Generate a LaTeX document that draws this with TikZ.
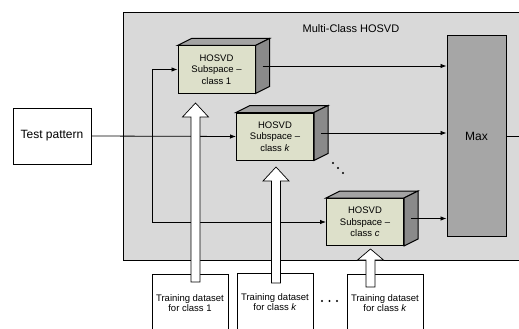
\documentclass[tikz,border=0pt]{standalone}
\usepackage{fontspec}
\setmainfont{Liberation Sans}
\usetikzlibrary{arrows.meta,calc}

\definecolor{panelgray}{HTML}{D9D9D9}
\definecolor{facegreen}{HTML}{DDE0CA}
\definecolor{topgray}{HTML}{A3A3A3}
\definecolor{sidegray}{HTML}{8A8A8A}
\definecolor{maxgray}{HTML}{A6A6A6}

\tikzset{
  subspace/.style={draw,line width=1pt,fill=facegreen,minimum width=77pt,minimum height=47pt,
    inner sep=0pt,align=center,font=\fontsize{9.5}{11.5}\selectfont},
  trainbox/.style={draw,line width=0.8pt,fill=white,minimum width=76pt,minimum height=58pt,
    inner sep=0pt,align=center,font=\fontsize{9.5}{10.5}\selectfont},
  flow/.style={line width=0.8pt,-{Latex[length=6pt,width=4.5pt]}}
}

% hollow upward arrow: x, tip y, head base y, tail y
\newcommand{\bigarrow}[4]{%
  \filldraw[fill=white,line width=0.7pt]
    (#1-4.5,#4) -- (#1-4.5,#3) -- (#1-13,#3) -- (#1,#2) -- (#1+13,#3)
    -- (#1+4.5,#3) -- (#1+4.5,#4) -- cycle;}

% top and side face of a cube on a node
\newcommand{\cubefaces}[1]{%
  \filldraw[fill=topgray,line width=1pt] (#1.north west) -- ++(14,-7) -- ($(#1.north east)+(14,-7)$)
    -- (#1.north east) -- cycle;
  \filldraw[fill=sidegray,line width=1pt] (#1.north east) -- ++(14,-7) -- ($(#1.south east)+(14,-7)$)
    -- (#1.south east) -- cycle;}

\begin{document}
\begin{tikzpicture}[x=1pt,y=-1pt]
\useasboundingbox (0,0) rectangle (519,329);
\clip (0,0) rectangle (519,329);

\draw[line width=0.9pt,fill=panelgray] (123,12) rectangle (540,260);
\node (title) at (351,29) {\fontsize{11}{13}\selectfont Multi-Class HOSVD};

\node[draw,line width=0.9pt,fill=white,minimum width=78pt,minimum height=56pt,inner sep=0pt,
  font=\fontsize{12}{14}\selectfont] (test) at (52,136) {Test pattern};

\node[draw,line width=1pt,fill=maxgray,minimum width=59pt,minimum height=200pt,inner sep=0pt,
  font=\fontsize{12}{14}\selectfont] (max) at (476.5,136) {Max};

\node[subspace] (box1) at (216.5,69.5) {HOSVD\\Subspace --\\class 1};
\node[subspace] (boxk) at (275,136.5) {HOSVD\\Subspace --\\class \textit{k}};
\node[subspace] (boxc) at (365,222) {HOSVD\\Subspace --\\class \textit{c}};
\cubefaces{box1}
\cubefaces{boxk}
\cubefaces{boxc}

% inputs
\coordinate (split) at (152,136);
\draw[flow] (test.east) -- (boxk.west);
\draw[flow] (split) |- (box1.west);
\draw[flow] (split) |- (boxc.west);

% outputs
\coordinate (o1) at ($(box1.east)+(7,-3.5)$);
\coordinate (ok) at ($(boxk.east)+(7,-3.5)$);
\coordinate (oc) at ($(boxc.east)+(7,-3.5)$);
\draw[flow] (o1) -- (max.west |- o1);
\draw[flow] (ok) -- (max.west |- ok);
\draw[flow] (oc) -- (max.west |- oc);
\coordinate (out) at (530,136);
\draw[line width=0.8pt] (max.east) -- (out);

% dots
\foreach \p in {(333,163),(338,168),(343,173)}
  \fill \p circle (1.1);

% training sets
\node[trainbox] (tr1) at (190,303) {Training dataset\\for class 1};
\node[trainbox] (trk) at (275,302) {Training dataset\\for class \textit{k}};
\node[trainbox] (trc) at (385,303) {Training dataset\\for class \textit{k}};
\foreach \x in {322,329.5,337}
  \fill (\x,301) circle (1.1);

\bigarrow{195.5}{103}{117}{282}
\bigarrow{276}{167}{181}{283}
\bigarrow{370.5}{249}{260}{287}
\end{tikzpicture}
\end{document}
